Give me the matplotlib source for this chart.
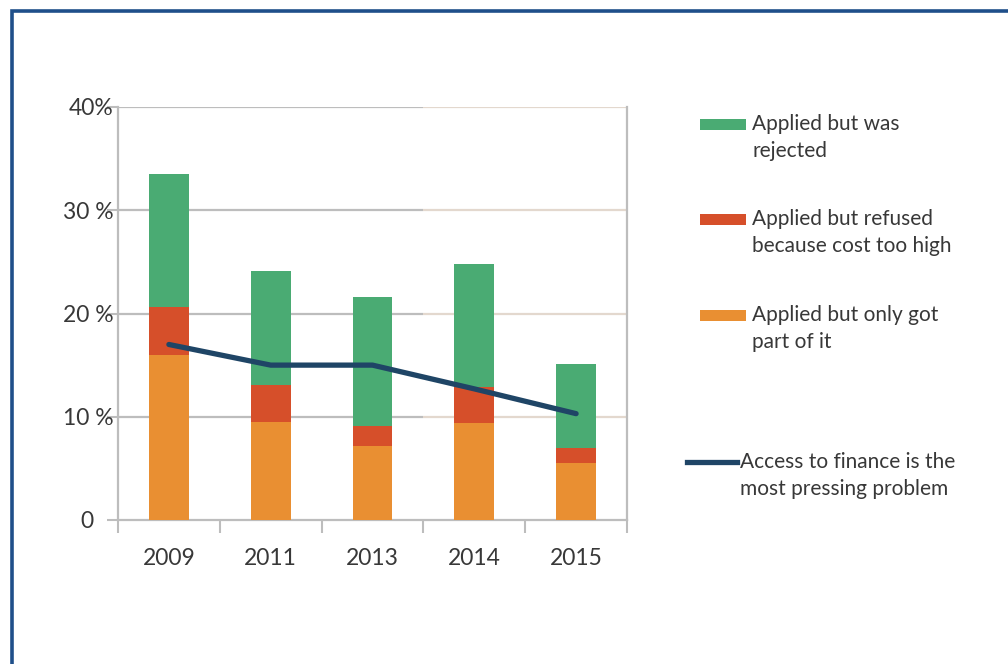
import matplotlib
matplotlib.use("Agg")
import matplotlib.pyplot as plt
from matplotlib.patches import Rectangle
from matplotlib.lines import Line2D
from matplotlib.transforms import ScaledTranslation
import numpy as np

years = ["2009", "2011", "2013", "2014", "2015"]
only_part = [16.0, 9.5, 7.2, 9.4, 5.5]
refused_cost = [4.6, 3.6, 1.9, 3.5, 1.5]
rejected = [12.9, 11.0, 12.5, 11.85, 8.1]
pressing = [17.0, 15.0, 15.0, 12.7, 10.3]
y_ticks = [0, 10, 20, 30, 40]
y_tick_labels = ["0", "10 %", "20 %", "30 %", "40%"]

series_labels = ["Applied but was\nrejected",
                 "Applied but refused\nbecause cost too high",
                 "Applied but only got\npart of it"]
line_label = "Access to finance is the\nmost pressing problem"

C_GREEN = "#4aab73"
C_RED = "#d64f2a"
C_ORANGE = "#e98f32"
C_LINE = "#1f4566"
C_TEXT = "#383838"
C_GRID = "#bdbdbd"
C_GRID2 = "#e3d8ce"

plt.rcParams['font.family'] = ['Lato', 'DejaVu Sans']

W, H = 1008, 664
fig = plt.figure(figsize=(W / 100, H / 100), dpi=100)
fig.patch.set_facecolor("white")

ax = fig.add_axes([118 / W, 1 - 520 / H, 509 / W, 413 / H])
x = np.arange(len(years))
bw = 0.39

ax.bar(x, only_part, bw, color=C_ORANGE, zorder=3)
ax.bar(x, refused_cost, bw, bottom=only_part, color=C_RED, zorder=3)
bottom2 = np.array(only_part) + np.array(refused_cost)
ax.bar(x, rejected, bw, bottom=bottom2, color=C_GREEN, zorder=3)
ax.plot(x, pressing, color=C_LINE, lw=3.8, zorder=4, solid_capstyle="round")

ax.set_xlim(-0.5, len(years) - 0.5)
ax.set_ylim(0, 40)

# gridlines (two-tone like the source)
split = 2.5
for yt in y_ticks[1:]:
    ax.hlines(yt, -0.5, split, color=C_GRID, lw=1.6, zorder=1)
    ax.hlines(yt, split, len(years) - 0.5, color=C_GRID2, lw=1.6, zorder=1)

ax.set_yticks(y_ticks)
ax.set_yticklabels(y_tick_labels)
ax.set_xticks(x)
ax.set_xticklabels(years)
ax.set_xticks(np.arange(len(years) + 1) - 0.5, minor=True)

ax.tick_params(axis="y", length=8, width=1.5, color=C_GRID, labelsize=16.5,
               labelcolor=C_TEXT, pad=-5)
ax.tick_params(axis="x", which="major", length=0, labelsize=16.5,
               labelcolor=C_TEXT, pad=20)
ax.tick_params(axis="x", which="minor", length=9, width=1.5, color=C_GRID)

# the "0" label sits further left in the source
zero_lbl = ax.get_yticklabels()[0]
zero_lbl.set_transform(zero_lbl.get_transform() +
                       ScaledTranslation(-20 / 100, 0, fig.dpi_scale_trans))

for s in ["left", "bottom", "right"]:
    ax.spines[s].set_color(C_GRID)
    ax.spines[s].set_linewidth(1.6)
ax.spines["top"].set_visible(False)

# legend drawn in figure pixel space
def fx(px):
    return px / W

def fy(py):
    return 1 - py / H

patch_colors = [C_GREEN, C_RED, C_ORANGE]
patch_y = [124, 219, 315]
for col, py, lab in zip(patch_colors, patch_y, series_labels):
    fig.add_artist(Rectangle((fx(700), fy(py + 5.5)), 46 / W, 11 / H,
                             transform=fig.transFigure, color=col, lw=0))
    fig.text(fx(752), fy(py - 10), lab, ha="left", va="top", fontsize=15,
             color=C_TEXT, linespacing=1.45)

fig.add_artist(Line2D([fx(687), fx(737)], [fy(462), fy(462)],
                      transform=fig.transFigure, color=C_LINE, lw=3.8))
fig.text(fx(740), fy(462 - 10), line_label, ha="left", va="top", fontsize=15,
         color=C_TEXT, linespacing=1.45)

# outer frame (extends past right/bottom edge)
fig.add_artist(Rectangle((fx(12), -0.2), 1.3, fy(11.5) + 0.2,
                         transform=fig.transFigure, fill=False,
                         edgecolor="#1f4f8a", lw=2.6))

fig.savefig("out.png", dpi=100, facecolor="white")
